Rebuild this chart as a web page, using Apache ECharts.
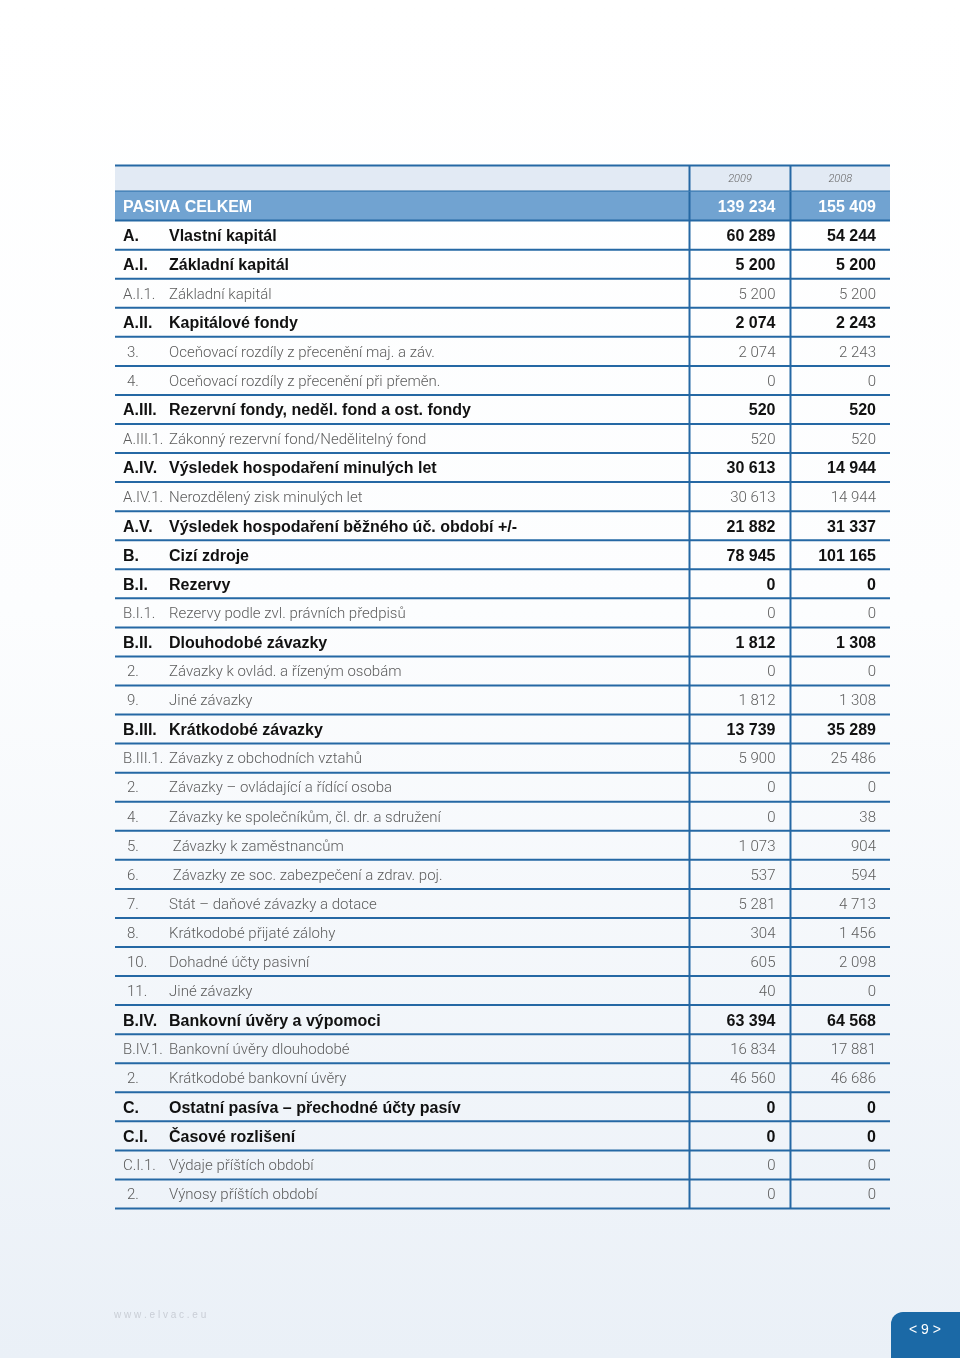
<!DOCTYPE html>
<html>
<head>
<meta charset="utf-8">
<script src="https://cdn.jsdelivr.net/npm/echarts@6/dist/echarts.min.js"></script>
<style>
  html, body { margin: 0; padding: 0; }
  body { background: linear-gradient(180deg, #ffffff 0%, #fcfdfe 45%, #eaf0f7 100%); }
  #myChart { width: 960px; height: 1358px; }
</style>
</head>
<body>
<div id="myChart"></div>
<script>
// roky v hlavičce
const years = ['2009', '2008']
// kódy řádků (bez hlavičky)
const codes = [
  '', 'A.', 'A.I.', 'A.I.1.', 'A.II.', '3.', '4.', 'A.III.', 'A.III.1.', 'A.IV.', 'A.IV.1.', 'A.V.',
  'B.', 'B.I.', 'B.I.1.', 'B.II.', '2.', '9.', 'B.III.', 'B.III.1.', '2.', '4.', '5.', '6.', '7.',
  '8.', '10.', '11.', 'B.IV.', 'B.IV.1.', '2.', 'C.', 'C.I.', 'C.I.1.', '2.'
]
const names = [
  'PASIVA CELKEM',
  'Vlastní kapitál',
  'Základní kapitál',
  'Základní kapitál',
  'Kapitálové fondy',
  'Oceňovací rozdíly z přecenění maj. a záv.',
  'Oceňovací rozdíly z přecenění při přeměn.',
  'Rezervní fondy, neděl. fond a ost. fondy',
  'Zákonný rezervní fond/Nedělitelný fond',
  'Výsledek hospodaření minulých let',
  'Nerozdělený zisk minulých let',
  'Výsledek hospodaření běžného úč. období +/-',
  'Cizí zdroje',
  'Rezervy',
  'Rezervy podle zvl. právních předpisů',
  'Dlouhodobé závazky',
  'Závazky k ovlád. a řízeným osobám',
  'Jiné závazky',
  'Krátkodobé závazky',
  'Závazky z obchodních vztahů',
  'Závazky – ovládající a řídící osoba',
  'Závazky ke společníkům, čl. dr. a sdružení',
  ' Závazky k zaměstnancům',
  ' Závazky ze soc. zabezpečení a zdrav. poj.',
  'Stát – daňové závazky a dotace',
  'Krátkodobé přijaté zálohy',
  'Dohadné účty pasivní',
  'Jiné závazky',
  'Bankovní úvěry a výpomoci',
  'Bankovní úvěry dlouhodobé',
  'Krátkodobé bankovní úvěry',
  'Ostatní pasíva – přechodné účty pasív',
  'Časové rozlišení',
  'Výdaje příštích období',
  'Výnosy příštích období'
]
const values2009 = [
  139234, 60289, 5200, 5200, 2074, 2074, 0, 520, 520, 30613, 30613, 21882,
  78945, 0, 0, 1812, 0, 1812, 13739, 5900, 0, 0, 1073, 537, 5281,
  304, 605, 40, 63394, 16834, 46560, 0, 0, 0, 0
]
const values2008 = [
  155409, 54244, 5200, 5200, 2243, 2243, 0, 520, 520, 14944, 14944, 31337,
  101165, 0, 0, 1308, 0, 1308, 35289, 25486, 0, 38, 904, 594, 4713,
  1456, 2098, 0, 64568, 17881, 46686, 0, 0, 0, 0
]
// t = součet, b = tučný řádek, l = položka
const rowTypes = [
  't', 'b', 'b', 'l', 'b', 'l', 'l', 'b', 'l', 'b', 'l', 'b',
  'b', 'b', 'l', 'b', 'l', 'l', 'b', 'l', 'l', 'l', 'l', 'l', 'l',
  'l', 'l', 'l', 'b', 'l', 'l', 'b', 'b', 'l', 'l'
]

const LINE = '#2568a4'
const COL1 = 0.7413 // hranice sloupců (podíl šířky tabulky)
const COL2 = 0.8716
const HEAD_H = 26   // hlavička s roky je nižší

function fmt(n) {
  return String(n).replace(/\B(?=(\d{3})+(?!\d))/g, ' ')
}

// index 0 = hlavička s roky
const rowIndex = [0].concat(names.map((n, i) => i + 1))

function renderRow(params, api) {
  const r = api.value(1)
  const mid = api.coord([0, r])
  const h = api.size([0, 1])[1]
  const x0 = mid[0]
  const x1 = api.coord([1, r])[0]
  let y0 = mid[1] - h / 2
  const y1 = mid[1] + h / 2
  const cy = mid[1] + 1.5
  const s1 = x0 + (x1 - x0) * COL1
  const s2 = x0 + (x1 - x0) * COL2
  const kids = []

  if (r === 0) {
    y0 = y1 - HEAD_H
    kids.push({ type: 'rect', shape: { x: x0, y: y0, width: x1 - x0, height: HEAD_H }, style: { fill: '#e2eaf4' } })
    kids.push({ type: 'line', shape: { x1: x0, y1: y0, x2: x1, y2: y0 }, style: { stroke: LINE, lineWidth: 2 } })
    years.forEach((yr, k) => {
      const cx = k === 0 ? (s1 + s2) / 2 : (s2 + x1) / 2
      kids.push({
        type: 'text',
        style: { x: cx, y: (y0 + y1) / 2 + 1, text: yr, align: 'center', verticalAlign: 'middle',
          fontSize: 11, fontStyle: 'italic', fontFamily: 'Roboto', fontWeight: 300, fill: '#666' }
      })
    })
  } else {
    const i = r - 1
    const t = rowTypes[i]
    const bold = t !== 'l'
    const color = t === 't' ? '#ffffff' : (bold ? '#111111' : '#5c5c5c')
    const font = bold
      ? { fontFamily: '"Liberation Sans", Arial, sans-serif', fontWeight: 'bold', fontSize: 16 }
      : { fontFamily: 'Roboto', fontWeight: 300, fontSize: 15 }
    if (t === 't') {
      kids.push({ type: 'rect', shape: { x: x0, y: y0, width: x1 - x0, height: h }, style: { fill: '#71a3d1' } })
    }
    const code = codes[i]
    const codeX = /^\d/.test(code) ? x0 + 12 : x0 + 8
    const nameX = code ? x0 + 54 : x0 + 8
    kids.push({ type: 'text', style: Object.assign({ x: codeX, y: cy, text: code, align: 'left', verticalAlign: 'middle', fill: color }, font) })
    kids.push({ type: 'text', style: Object.assign({ x: nameX, y: cy, text: names[i], align: 'left', verticalAlign: 'middle', fill: color }, font) })
    kids.push({ type: 'text', style: Object.assign({ x: s2 - 15, y: cy, text: fmt(values2009[i]), align: 'right', verticalAlign: 'middle', fill: color }, font) })
    kids.push({ type: 'text', style: Object.assign({ x: x1 - 14, y: cy, text: fmt(values2008[i]), align: 'right', verticalAlign: 'middle', fill: color }, font) })
  }
  // spodní linka a svislé dělicí čáry
  kids.push({ type: 'line', shape: { x1: x0, y1: y1, x2: x1, y2: y1 }, style: { stroke: LINE, lineWidth: 2 } })
  kids.push({ type: 'line', shape: { x1: s1, y1: y0, x2: s1, y2: y1 }, style: { stroke: LINE, lineWidth: 2 } })
  kids.push({ type: 'line', shape: { x1: s2, y1: y0, x2: s2, y2: y1 }, style: { stroke: LINE, lineWidth: 2 } })
  return { type: 'group', children: kids }
}

const myOption = {
  animation: false,
  grid: { left: 115, top: 162.5, width: 775, height: 1046 },
  xAxis: { type: 'value', min: 0, max: 1, show: false },
  yAxis: { type: 'category', inverse: true, data: rowIndex, show: false },
  series: [{
    type: 'custom',
    renderItem: renderRow,
    data: rowIndex.map(r => [0.5, r]),
    silent: true
  }],
  graphic: [
    {
      type: 'text', left: 114, top: 1310,
      style: { text: 'w w w . e l v a c . e u', fontSize: 10, fontFamily: 'Liberation Sans', fill: '#c9ced6' }
    },
    {
      type: 'rect', left: 891, top: 1312,
      shape: { width: 69, height: 46, r: [12, 0, 0, 0] },
      style: { fill: '#1b69a6' }
    },
    {
      type: 'text', left: 909, top: 1323,
      style: { text: '< 9 >', fontSize: 14, fontFamily: 'Liberation Sans', fill: '#ffffff' }
    }
  ]
}

const myChart = echarts.init(document.getElementById('myChart'))
myChart.setOption(myOption)
</script>
</body>
</html>
